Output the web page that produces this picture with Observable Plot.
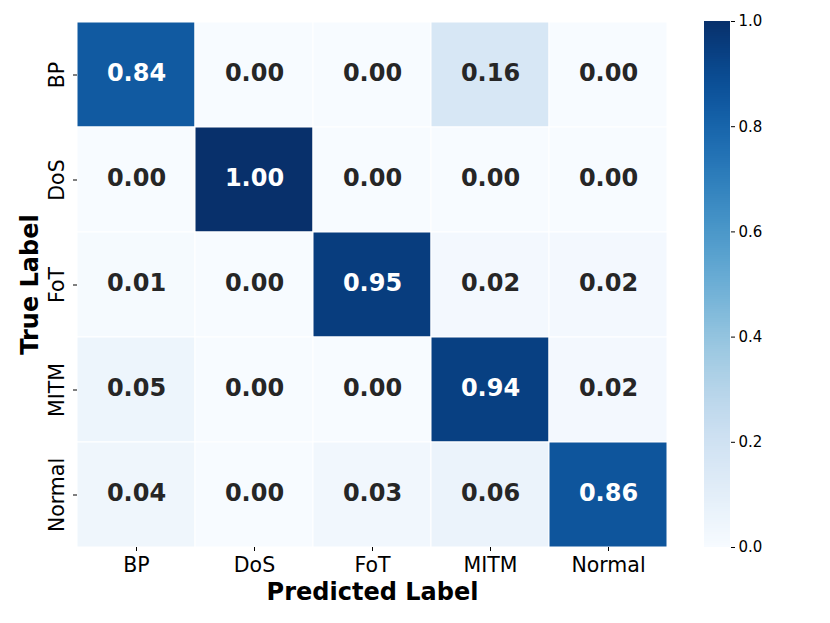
<!DOCTYPE html>
<html>
<head>
<meta charset="utf-8">
<script src="https://cdn.jsdelivr.net/npm/d3@7"></script>
<script src="https://cdn.jsdelivr.net/npm/@observablehq/plot@0.6"></script>
<style>
  html, body { margin: 0; padding: 0; background: #fff; }
  #wrap { position: relative; width: 830px; height: 623px; font-family: "DejaVu Sans", sans-serif; }
  #wrap svg { position: absolute; top: 0; font-family: "DejaVu Sans", sans-serif; }
</style>
</head>
<body>
<div id="wrap"></div>
<script>
const predictedLabels = ["BP", "DoS", "FoT", "MITM", "Normal"];
const trueLabels = ["BP", "DoS", "FoT", "MITM", "Normal"];
const rowBP     = [0.84, 0.00, 0.00, 0.16, 0.00];
const rowDoS    = [0.00, 1.00, 0.00, 0.00, 0.00];
const rowFoT    = [0.01, 0.00, 0.95, 0.02, 0.02];
const rowMITM   = [0.05, 0.00, 0.00, 0.94, 0.02];
const rowNormal = [0.04, 0.00, 0.03, 0.06, 0.86];
const colorTicks = [0.0, 0.2, 0.4, 0.6, 0.8, 1.0];

const rows = [rowBP, rowDoS, rowFoT, rowMITM, rowNormal];
const cells = rows.flatMap((r, i) => r.map((v, j) => ({t: trueLabels[i], p: predictedLabels[j], v})));

const FONT = "DejaVu Sans";
const wrap = document.getElementById("wrap");

const main = Plot.plot({
  width: 830, height: 623,
  marginLeft: 77, marginRight: 163, marginTop: 21, marginBottom: 76,
  style: {fontFamily: FONT, background: "transparent"},
  x: {domain: predictedLabels, padding: 0, label: null},
  y: {domain: trueLabels, padding: 0, label: null},
  color: {type: "linear", scheme: "blues", domain: [0, 1]},
  marks: [
    Plot.cell(cells, {x: "p", y: "t", fill: "v", stroke: "white", strokeWidth: 1}),
    Plot.text(cells, {x: "p", y: "t", dy: -1.5, text: d => d.v.toFixed(2), fill: d => d.v > 0.5 ? "white" : "#262626",
      fontSize: 24, fontWeight: "bold"}),
    Plot.axisX({tickSize: 4, tickPadding: 6, fontSize: 20.5, label: null, stroke: "#000"}),
    Plot.axisY({tickSize: 4, tickPadding: 10, fontSize: 20.5, label: null, tickRotate: -90}),
    Plot.text(["Predicted Label"], {frameAnchor: "bottom", dy: 45, fontSize: 24, fontWeight: "bold", fill: "black", lineAnchor: "middle", textAnchor: "middle"}),
    Plot.text(["True Label"], {frameAnchor: "left", dx: -47, rotate: -90, fontSize: 24, fontWeight: "bold", fill: "black", lineAnchor: "middle", textAnchor: "middle"})
  ]
});
main.style.left = "0px";
wrap.appendChild(main);

const steps = d3.range(0, 1, 0.004);
const bar = Plot.plot({
  width: 140, height: 623,
  marginLeft: 14, marginRight: 100, marginTop: 21, marginBottom: 76,
  style: {fontFamily: FONT, background: "transparent"},
  x: {domain: [0, 1], axis: null},
  y: {domain: [0, 1], label: null},
  color: {type: "linear", scheme: "blues", domain: [0, 1]},
  marks: [
    Plot.rect(steps, {x1: 0, x2: 1, y1: d => d, y2: d => Math.min(1, d + 0.0045), fill: d => d + 0.002, shapeRendering: "crispEdges"}),
    Plot.axisY({anchor: "right", ticks: colorTicks, tickFormat: d3.format(".1f"), tickSize: 4, tickPadding: 4, fontSize: 15, label: null})
  ]
});
bar.style.left = "690px";
wrap.appendChild(bar);
</script>
</body>
</html>
